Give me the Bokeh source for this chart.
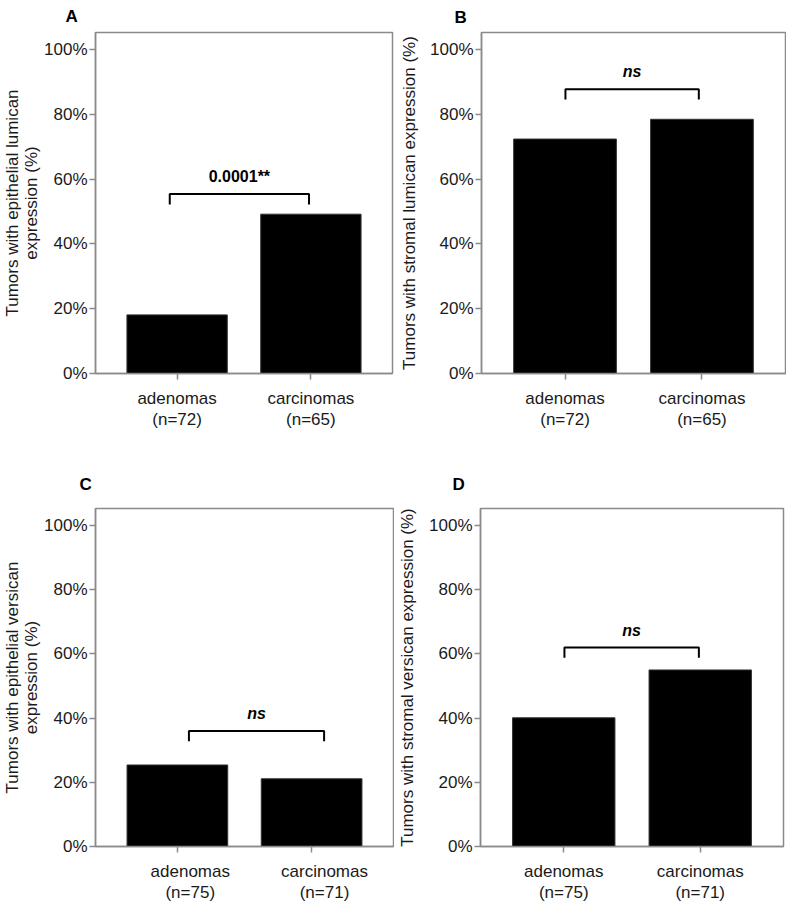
from bokeh.plotting import figure
from bokeh.models import Range1d, FixedTicker, PrintfTickFormatter, LinearAxis
from bokeh.layouts import column, row
from bokeh.embed import file_html
from bokeh.resources import INLINE
from bokeh.core.properties import value

# ---------------- data ----------------
categories = ["adenomas", "carcinomas"]
n_lumican = [72, 65]
n_versican = [75, 71]
epithelial_lumican = [18.1, 49.2]
stromal_lumican = [72.4, 78.5]
epithelial_versican = [25.4, 21.1]
stromal_versican = [40.1, 55.0]
panel_letters = ["A", "B", "C", "D"]
y_titles = [
    "Tumors with epithelial lumican\nexpression (%)",
    "Tumors with stromal lumican expression (%)",
    "Tumors with epithelial versican\nexpression (%)",
    "Tumors with stromal versican expression (%)",
]
sig_labels = ["0.0001**", "ns", "ns", "ns"]
bracket_levels = [55.4, 87.8, 36.0, 62.0]
y_ticks = [0, 20, 40, 60, 80, 100]

# ---------------- layout / style ----------------
FONT = "Liberation Sans"
GREY = "#8a8a8a"
Y_MAX = 105.3
X_LO, X_HI = -0.61, 1.61
DROP = 3.2
TEXT_GAP = 5.4

# (width, height, border l, r, t, b, bracket x0, bracket x1,
#  title offset, title standoff, title valign, label shift, y-label standoff)
layout_cfg = [
    (394, 452, 92, 2, 32, 79, -0.055, 0.986, -30, 10, "top", 0.0, 0),
    (392, 452, 87, 1, 29, 79, 0.003, 0.977, -27, 8, "top", 0.0, 8),
    (394, 452, 92, 1, 54, 54, 0.086, 1.093, -16, 29, "bottom", 0.096, 0),
    (392, 452, 86, 3, 56, 53, 0.005, 0.990, -28, 29, "bottom", 0.0, 9),
]

values = [epithelial_lumican, stromal_lumican, epithelial_versican, stromal_versican]
ns_list = [n_lumican, n_lumican, n_versican, n_versican]


def style_axis(ax):
    ax.axis_line_color = GREY
    ax.axis_line_width = 1.5
    ax.major_tick_line_color = GREY
    ax.major_tick_line_width = 1.5
    ax.major_tick_out = 6
    ax.major_tick_in = 0
    ax.minor_tick_line_color = None
    ax.major_label_text_font = FONT
    ax.major_label_text_font_size = "17px"
    ax.major_label_text_color = "#1a1a1a"


def make_panel(i):
    (w, h, bl, br, bt, bb, bx0, bx1, toff, tstand, tvalign, shift, ystand) = layout_cfg[i]
    vals = values[i]
    ns = ns_list[i]
    xs = list(range(len(categories)))
    p = figure(width=w, height=h, x_range=Range1d(X_LO, X_HI), y_range=Range1d(0, Y_MAX),
               output_backend="svg", toolbar_location=None, x_axis_location=None,
               min_border_left=bl, min_border_right=br, min_border_top=bt, min_border_bottom=bb)
    p.background_fill_color = "white"
    p.border_fill_color = "white"
    p.outline_line_color = GREY
    p.outline_line_width = 1.5
    p.xgrid.visible = False
    p.ygrid.visible = False

    # panel letter as title
    p.title.text = panel_letters[i]
    p.title.align = "left"
    p.title.vertical_align = tvalign
    p.title.offset = toff
    p.title.standoff = tstand
    p.title.text_font = FONT
    p.title.text_font_size = "17px"
    p.title.text_font_style = "bold"
    p.title.text_color = "black"

    p.vbar(x=xs, top=vals, width=0.75, fill_color="black", line_color="#333333", line_width=1)

    lvl = bracket_levels[i]
    p.line(x=[bx0, bx0, bx1, bx1], y=[lvl - DROP, lvl, lvl, lvl - DROP],
           line_color="black", line_width=2)
    italic = sig_labels[i] == "ns"
    p.text(x=[(bx0 + bx1) / 2], y=[lvl + TEXT_GAP], text=[sig_labels[i]],
           text_align="center", text_baseline="middle",
           text_font=value(FONT), text_font_size="16px",
           text_font_style="bold italic" if italic else "bold", text_color="black")

    # category axis: tick marks on the categories (minor ticks), labels at label positions
    labels = [f"{c}\n(n={n})" for c, n in zip(categories, ns)]
    label_pos = [x + shift for x in xs]
    xa = LinearAxis(ticker=FixedTicker(ticks=label_pos, minor_ticks=xs),
                    major_label_overrides={x: lab for x, lab in zip(label_pos, labels)})
    style_axis(xa)
    xa.major_tick_line_color = None
    xa.minor_tick_line_color = GREY
    xa.minor_tick_line_width = 1.5
    xa.minor_tick_out = 6
    xa.minor_tick_in = 0
    xa.major_label_standoff = 9
    xa.major_label_text_line_height = 1.12
    p.add_layout(xa, "below")

    p.yaxis.ticker = FixedTicker(ticks=y_ticks)
    p.yaxis.formatter = PrintfTickFormatter(format="%d%%")
    style_axis(p.yaxis[0])
    p.yaxis.major_label_standoff = 2
    p.yaxis.axis_label = y_titles[i]
    p.yaxis.axis_label_text_font = FONT
    p.yaxis.axis_label_text_font_size = "17px"
    p.yaxis.axis_label_text_font_style = "normal"
    p.yaxis.axis_label_text_color = "#1a1a1a"
    p.yaxis.axis_label_standoff = ystand
    p.yaxis.axis_label_text_line_height = 1.0
    return p


panels = [make_panel(i) for i in range(4)]
lay = column(row(panels[0], panels[1]), row(panels[2], panels[3]))
open("out.html", "w").write(file_html(lay, INLINE))
